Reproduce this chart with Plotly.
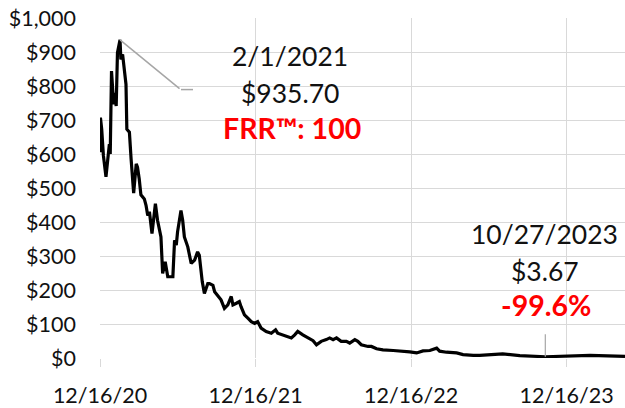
import pandas as pd
import plotly.graph_objects as go

start_date = "2020-12-16"
day_offset = [0, 1, 4, 8, 14, 18, 22, 24, 27, 32,
              35, 38, 41, 47, 49, 53, 57, 61, 63, 69,
              73, 79, 85, 88, 92, 96, 104, 108, 112, 116,
              122, 130, 135, 143, 147, 153, 159, 167, 171, 175,
              179, 182, 190, 194, 198, 206, 214, 222, 229, 233,
              237, 240, 245, 249, 253, 257, 265, 269, 276, 284,
              292, 300, 308, 312, 320, 327, 331, 339, 347, 355,
              363, 370, 378, 390, 402, 412, 417, 429, 441, 449,
              457, 464, 476, 488, 500, 508, 519, 531, 539, 547,
              555, 566, 578, 586, 598, 605, 613, 629, 637, 649,
              664, 688, 711, 727, 743, 758, 774, 790, 797, 813,
              837, 852, 876, 891, 945, 985, 1045, 1080, 1150, 1232]
price = [605, 707, 673, 595, 533, 580, 629, 600, 844, 746,
         780, 741, 898, 935.7, 878, 893, 849, 805, 673, 664,
         585, 485, 571, 561, 527, 480, 468, 449, 419, 430,
         366, 454, 405, 356, 249, 283, 239, 239, 239, 346,
         332, 371, 434, 405, 356, 327, 278, 288, 312, 302,
         244, 224, 190, 205, 219, 219, 214, 195, 185, 171,
         146, 156, 181, 156, 161, 166, 151, 127, 117, 107,
         102, 107, 88, 78, 73, 83, 73, 68, 63, 59,
         68, 78, 68, 59, 51, 39, 49, 54, 59, 54,
         59, 49, 49, 44, 54, 49, 39, 34, 34, 27,
         24, 22, 21, 18, 15, 21, 22, 29, 20, 17,
         15, 10, 8, 8, 12, 7, 3.67, 5, 8, 5]

tick_dates = ["2020-12-16", "2021-12-16", "2022-12-16", "2023-12-16"]
y_ticks = [0, 100, 200, 300, 400, 500, 600, 700, 800, 900, 1000]
y_tick_labels = ["$0", "$100", "$200", "$300", "$400", "$500",
                 "$600", "$700", "$800", "$900", "$1,000"]

peak_date, peak_price = "2021-02-01", 935.7
last_date, last_price = "2023-10-27", 3.67
peak_lines = ["2/1/2021", "$935.70", "FRR™: 100"]
last_lines = ["10/27/2023", "$3.67", "-99.6%"]

dates = pd.to_datetime(start_date) + pd.to_timedelta(day_offset, unit="D")

FONT = "Lato"
GRID = "#d9d9d9"
TXT = "#111111"

fig = go.Figure()
fig.add_trace(go.Scatter(x=dates, y=price, mode="lines",
                         line=dict(color="black", width=3.2), hoverinfo="skip"))

fig.update_layout(
    width=625, height=408,
    margin=dict(l=100, r=0, t=18, b=48),
    paper_bgcolor="white", plot_bgcolor="white",
    showlegend=False,
    font=dict(family=FONT, color=TXT),
    xaxis=dict(
        range=[dates[0], dates[-1]],
        tickvals=pd.to_datetime(tick_dates),
        tickformat="%m/%d/%y",
        showgrid=True, gridcolor=GRID, gridwidth=1.3,
        ticks="outside", ticklen=8, tickcolor=GRID, tickwidth=1.3,
        ticklabelstandoff=10,
        tickfont=dict(size=21.5, family=FONT, color=TXT),
        showline=False, zeroline=False,
    ),
    yaxis=dict(
        range=[0, 1000],
        tickvals=y_ticks, ticktext=y_tick_labels,
        showgrid=True, gridcolor=GRID, gridwidth=1.3,
        ticks="", ticklabelstandoff=23,
        tickfont=dict(size=21.5, family=FONT, color=TXT),
        showline=False, zeroline=False,
    ),
)

def px_to_paper(px, py):
    return (px - 100) / 525, (360 - py) / 342

for lines, centers in [(peak_lines, [(289.5, 56), (289.5, 93), (291.5, 129)]),
                       (last_lines, [(544.5, 235), (545, 272), (546, 307)])]:
    for i, (txt, (px, py)) in enumerate(zip(lines, centers)):
        red = i == 2
        xp, yp = px_to_paper(px, py)
        fig.add_annotation(xref="paper", yref="paper", x=xp, y=yp,
                           text=("<b>%s</b>" % txt) if red else txt,
                           showarrow=False, xanchor="center", yanchor="middle",
                           font=dict(size=28.5 if red else 26.5, family=FONT,
                                     color="#ff0000" if red else TXT))

# leader lines
fig.add_annotation(x=pd.to_datetime(peak_date), y=peak_price, text="", showarrow=True,
                   arrowhead=0, arrowwidth=1.5, arrowcolor="#a6a6a6",
                   ax=61, ay=50, standoff=0, startstandoff=0)
x0, y0 = px_to_paper(181, 90)
x1, _ = px_to_paper(193, 90)
fig.add_shape(type="line", xref="paper", yref="paper", x0=x0, x1=x1, y0=y0, y1=y0,
              line=dict(color="#a6a6a6", width=1.5))
fig.add_annotation(x=pd.to_datetime(last_date), y=last_price, text="", showarrow=True,
                   arrowhead=0, arrowwidth=1.2, arrowcolor="#a6a6a6",
                   ax=0, ay=-24, standoff=0, startstandoff=0)

fig.write_html("out.html", config={"displayModeBar": False},
               post_script="document.body.style.margin='0';")
